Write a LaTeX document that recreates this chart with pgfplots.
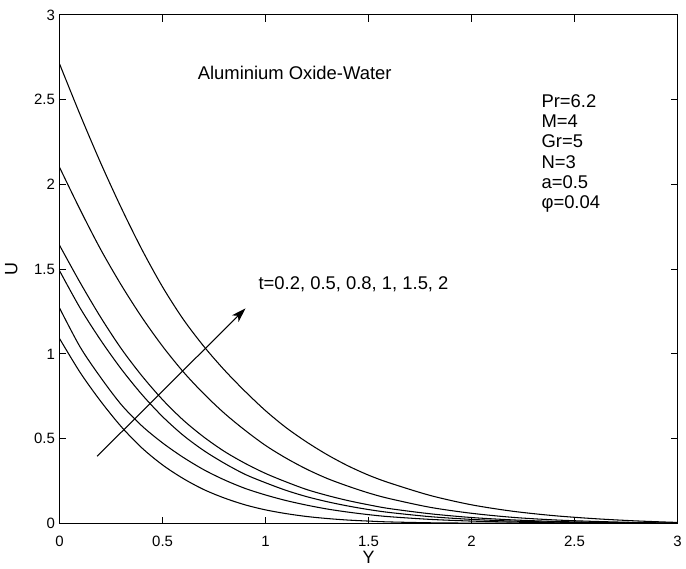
\documentclass[border=0pt]{standalone}
\usepackage{pgfplots}
\pgfplotsset{compat=1.18}
\usepackage{fontspec}
\setmainfont{Liberation Sans}
\usetikzlibrary{arrows.meta}

\begin{document}
\begin{tikzpicture}
\begin{axis}[
  scale only axis,
  width=466.5pt, height=384pt,
  xmin=0, xmax=3, ymin=0, ymax=3,
  xtick={0,0.5,1,1.5,2,2.5,3},
  ytick={0,0.5,1,1.5,2,2.5,3},
  xticklabels={0,0.5,1,1.5,2,2.5,3},
  yticklabels={0,0.5,1,1.5,2,2.5,3},
  tick pos=both, tick align=inside,
  major tick length=5pt,
  tick style={black, line width=0.7pt},
  axis line style={black, line width=0.8pt},
  ticklabel style={font=\fontsize{11.3}{13}\selectfont},
  xticklabel style={yshift=-6pt},
  xlabel={Y}, ylabel={U},
  label style={font=\fontsize{13.5}{15}\selectfont},
  xlabel style={at={(axis description cs:0.5,-0.067)}, anchor=center},
  ylabel style={at={(axis description cs:-0.078,0.5)}, anchor=center},
  clip=false,
]
% t = 0.2
\addplot[black, line width=0.8pt, smooth, mark=none] coordinates {(0,1.09) (0.1,0.89) (0.2,0.72) (0.3,0.57) (0.4,0.445) (0.5,0.345) (0.6,0.265) (0.7,0.20) (0.8,0.15) (0.9,0.11) (1.0,0.08) (1.1,0.058) (1.2,0.041) (1.3,0.029) (1.4,0.02) (1.5,0.014) (1.6,0.009) (1.8,0.004) (2.0,0.002) (2.2,0.001) (2.4,0.0005) (2.7,0.0002) (3.0,0)};
% t = 0.5
\addplot[black, line width=0.8pt, smooth, mark=none] coordinates {(0,1.27) (0.1,1.04) (0.2,0.86) (0.3,0.70) (0.4,0.575) (0.5,0.475) (0.6,0.39) (0.7,0.317) (0.8,0.257) (0.9,0.207) (1.0,0.168) (1.1,0.135) (1.2,0.108) (1.3,0.085) (1.4,0.067) (1.5,0.052) (1.6,0.04) (1.8,0.024) (2.0,0.014) (2.2,0.008) (2.4,0.004) (2.6,0.002) (2.8,0.001) (3.0,0)};
% t = 0.8
\addplot[black, line width=0.8pt, smooth, mark=none] coordinates {(0,1.49) (0.1,1.27) (0.2,1.08) (0.3,0.91) (0.4,0.76) (0.5,0.63) (0.6,0.52) (0.7,0.43) (0.8,0.355) (0.9,0.29) (1.0,0.24) (1.1,0.195) (1.2,0.158) (1.3,0.128) (1.4,0.103) (1.5,0.082) (1.6,0.065) (1.8,0.04) (2.0,0.024) (2.2,0.014) (2.4,0.008) (2.6,0.004) (2.8,0.002) (3.0,0.001)};
% t = 1
\addplot[black, line width=0.8pt, smooth, mark=none] coordinates {(0,1.64) (0.1,1.42) (0.2,1.215) (0.3,1.03) (0.4,0.87) (0.5,0.73) (0.6,0.61) (0.7,0.51) (0.8,0.425) (0.9,0.355) (1.0,0.295) (1.1,0.245) (1.2,0.20) (1.3,0.165) (1.4,0.135) (1.5,0.11) (1.6,0.088) (1.8,0.057) (2.0,0.035) (2.2,0.021) (2.4,0.012) (2.6,0.007) (2.8,0.003) (3.0,0.001)};
% t = 1.5
\addplot[black, line width=0.8pt, smooth, mark=none] coordinates {(0,2.10) (0.1,1.85) (0.2,1.615) (0.3,1.405) (0.4,1.215) (0.5,1.045) (0.6,0.895) (0.7,0.765) (0.8,0.65) (0.9,0.55) (1.0,0.46) (1.1,0.385) (1.2,0.32) (1.3,0.265) (1.4,0.22) (1.5,0.18) (1.6,0.147) (1.8,0.095) (2.0,0.06) (2.2,0.036) (2.4,0.021) (2.6,0.012) (2.8,0.006) (3.0,0.002)};
% t = 2
\addplot[black, line width=0.8pt, smooth, mark=none] coordinates {(0,2.71) (0.1,2.41) (0.2,2.125) (0.3,1.86) (0.4,1.615) (0.5,1.395) (0.6,1.205) (0.7,1.045) (0.8,0.905) (0.9,0.78) (1.0,0.665) (1.1,0.565) (1.2,0.48) (1.3,0.405) (1.4,0.34) (1.5,0.285) (1.6,0.24) (1.8,0.165) (2.0,0.11) (2.2,0.072) (2.4,0.046) (2.6,0.028) (2.8,0.015) (3.0,0.006)};

\draw[black, line width=0.8pt, -{Stealth[length=11pt, width=7pt, inset=3pt]}] (axis cs:0.182,0.396) -- (axis cs:0.903,1.269);

\node[anchor=base west, inner sep=0pt, font=\fontsize{13.9}{16}\selectfont] at (axis cs:0.670,2.616) {Aluminium Oxide-Water};
\node[anchor=base west, inner sep=0pt, font=\fontsize{13.9}{16}\selectfont] at (axis cs:0.965,1.379) {t=0.2, 0.5, 0.8, 1, 1.5, 2};
\node[anchor=base west, inner sep=0pt, font=\fontsize{13.9}{16}\selectfont] at (axis cs:2.339,2.453) {Pr=6.2};
\node[anchor=base west, inner sep=0pt, font=\fontsize{13.9}{16}\selectfont] at (axis cs:2.339,2.336) {M=4};
\node[anchor=base west, inner sep=0pt, font=\fontsize{13.9}{16}\selectfont] at (axis cs:2.339,2.215) {Gr=5};
\node[anchor=base west, inner sep=0pt, font=\fontsize{13.9}{16}\selectfont] at (axis cs:2.339,2.092) {N=3};
\node[anchor=base west, inner sep=0pt, font=\fontsize{13.9}{16}\selectfont] at (axis cs:2.339,1.975) {a=0.5};
\node[anchor=base west, inner sep=0pt, font=\fontsize{13.9}{16}\selectfont] at (axis cs:2.339,1.858) {φ=0.04};

\path (axis description cs:-0.0965,-0.082) rectangle (axis description cs:1.0064,1.0293);
\end{axis}
\end{tikzpicture}
\end{document}
